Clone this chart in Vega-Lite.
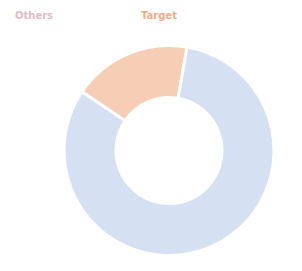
{
  "$schema": "https://vega.github.io/schema/vega-lite/v6.json",
  "autosize": {"type": "none"},
  "width": 266,
  "height": 241,
  "padding": {"left": 36, "top": 30, "right": 0, "bottom": 0},
  "background": "white",
  "data": {
    "values": [
      {"category": "Target", "value": 18.3, "order": 1},
      {"category": "Others", "value": 81.7, "order": 2}
    ]
  },
  "mark": {"type": "arc", "outerRadius": 105, "innerRadius": 53, "stroke": "white", "strokeWidth": 3},
  "encoding": {
    "theta": {"field": "value", "type": "quantitative", "stack": true, "scale": {"range": [-0.977, 5.306]}},
    "order": {"field": "order", "type": "quantitative"},
    "color": {
      "field": "category",
      "type": "nominal",
      "scale": {"domain": ["Others", "Target"], "range": ["#d6e0f3", "#f6cdb5"]},
      "legend": {
        "title": null,
        "orient": "none",
        "legendX": -31,
        "legendY": -19,
        "direction": "horizontal",
        "symbolSize": 0,
        "symbolStrokeWidth": 0,
        "labelOffset": 0,
        "columnPadding": 77,
        "labelFont": "DejaVu Sans",
        "labelFontSize": 10,
        "labelFontWeight": "bold",
        "labelColor": {"expr": "datum.value === 'Target' ? '#f0ab8c' : '#e0bcc8'"}
      }
    }
  }
}
